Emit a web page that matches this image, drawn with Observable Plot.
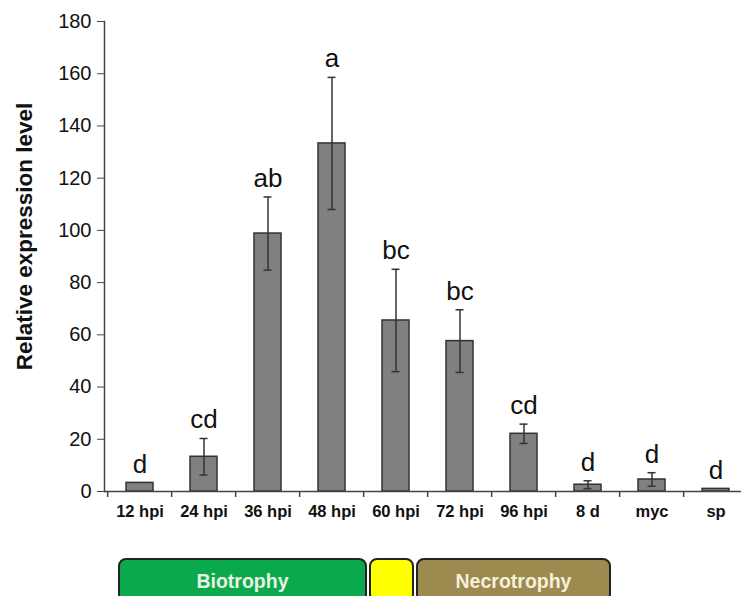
<!DOCTYPE html>
<html>
<head>
<meta charset="utf-8">
<script src="https://cdn.jsdelivr.net/npm/d3@7"></script>
<script src="https://cdn.jsdelivr.net/npm/@observablehq/plot@0.6"></script>
<style>
  html, body { margin: 0; padding: 0; background: #fff; overflow: hidden; }
  body { width: 741px; height: 596px; font-family: "Liberation Sans", Arial, sans-serif; }
  #phases { position: relative; height: 56px; }
  .phase { position: absolute; top: 18px; height: 44px; line-height: 42px; box-sizing: border-box;
           border: 2px solid #222; border-radius: 8px; text-align: center;
           font-weight: bold; font-size: 19.5px; }
</style>
</head>
<body>
<div id="chart"></div>
<div id="phases"></div>
<script>
const categories = ["12 hpi","24 hpi","36 hpi","48 hpi","60 hpi","72 hpi","96 hpi","8 d","myc","sp"];
const means      = [3.3, 13.3, 98.8, 133.3, 65.5, 57.6, 22.1, 2.6, 4.6, 1.0];
const errors     = [null, 7.0, 14.0, 25.3, 19.6, 12.0, 3.7, 1.5, 2.6, null];
const letters    = ["d","cd","ab","a","bc","bc","cd","d","d","d"];
const yTicks     = [0, 20, 40, 60, 80, 100, 120, 140, 160, 180];
const yLabel     = "Relative expression level";

const phaseNames   = ["Biotrophy", "", "Necrotrophy"];
const phaseColors  = ["#0aaa4c", "#ffff00", "#9c8a4e"];
const phaseText    = ["#eaf2e4", "#000", "#f6f0dc"];

const data = categories.map((c, i) => ({cat: c, mean: means[i], err: errors[i], letter: letters[i]}));
const withErr = data.filter(d => d.err != null);

const W = 741, H = 540, mL = 104, mT = 21, mB = H - 491, mR = -10;
const step = (W - mR - mL) / categories.length;

const plot = Plot.plot({
  width: W, height: H,
  marginLeft: mL, marginRight: mR, marginTop: mT, marginBottom: mB,
  style: {fontFamily: "'Liberation Sans', Arial, sans-serif", color: "#111", background: "#fff"},
  x: {domain: categories, paddingInner: 0.58, paddingOuter: 0.29, label: null},
  y: {domain: [0, 180], label: null},
  marks: [
    Plot.barY(data, {x: "cat", y: "mean", fill: "#808080", stroke: "#333", strokeWidth: 1.5}),
    Plot.ruleX(withErr, {x: "cat", y1: d => d.mean - d.err, y2: d => d.mean + d.err, stroke: "#333", strokeWidth: 1.5}),
    Plot.tickY(withErr, {x: "cat", y: d => d.mean + d.err, stroke: "#333", strokeWidth: 1.5, insetLeft: 9.5, insetRight: 9.5}),
    Plot.tickY(withErr, {x: "cat", y: d => d.mean - d.err, stroke: "#333", strokeWidth: 1.5, insetLeft: 9.5, insetRight: 9.5}),
    Plot.text(data, {x: "cat", y: d => d.mean + (d.err || 0), text: "letter", dy: -10, lineAnchor: "bottom", fontSize: 26, fill: "#111"}),
    Plot.ruleY([0], {stroke: "#444", strokeWidth: 1.5}),
    Plot.frame({anchor: "left", stroke: "#444", strokeWidth: 1.5}),
    Plot.axisY({ticks: yTicks, tickSize: 7, tickPadding: 6, fontSize: 20, label: null, stroke: "#444"}),
    Plot.axisX({tickSize: 0, tickPadding: 14, fontSize: 16.5, fontWeight: "bold", label: null}),
    Plot.axisX({tickSize: 6, text: null, dx: -step / 2, stroke: "#444", strokeWidth: 1.5, label: null}),
    Plot.text([yLabel], {frameAnchor: "left", rotate: -90, textAnchor: "middle", dx: 24 - mL, dy: -20, fontSize: 22.5, fontWeight: "bold", fill: "#111", lineAnchor: "middle"})
  ]
});
document.getElementById("chart").appendChild(plot);

// phase boxes (annotation strip below the chart)
const phaseLefts  = [118, 369, 416];
const phaseWidths = [249, 45, 195];
const ph = document.getElementById("phases");
phaseNames.forEach((n, i) => {
  const d = document.createElement("div");
  d.className = "phase";
  d.style.left = phaseLefts[i] + "px";
  d.style.width = phaseWidths[i] + "px";
  d.style.background = phaseColors[i];
  d.style.color = phaseText[i];
  d.textContent = n;
  ph.appendChild(d);
});
</script>
</body>
</html>
